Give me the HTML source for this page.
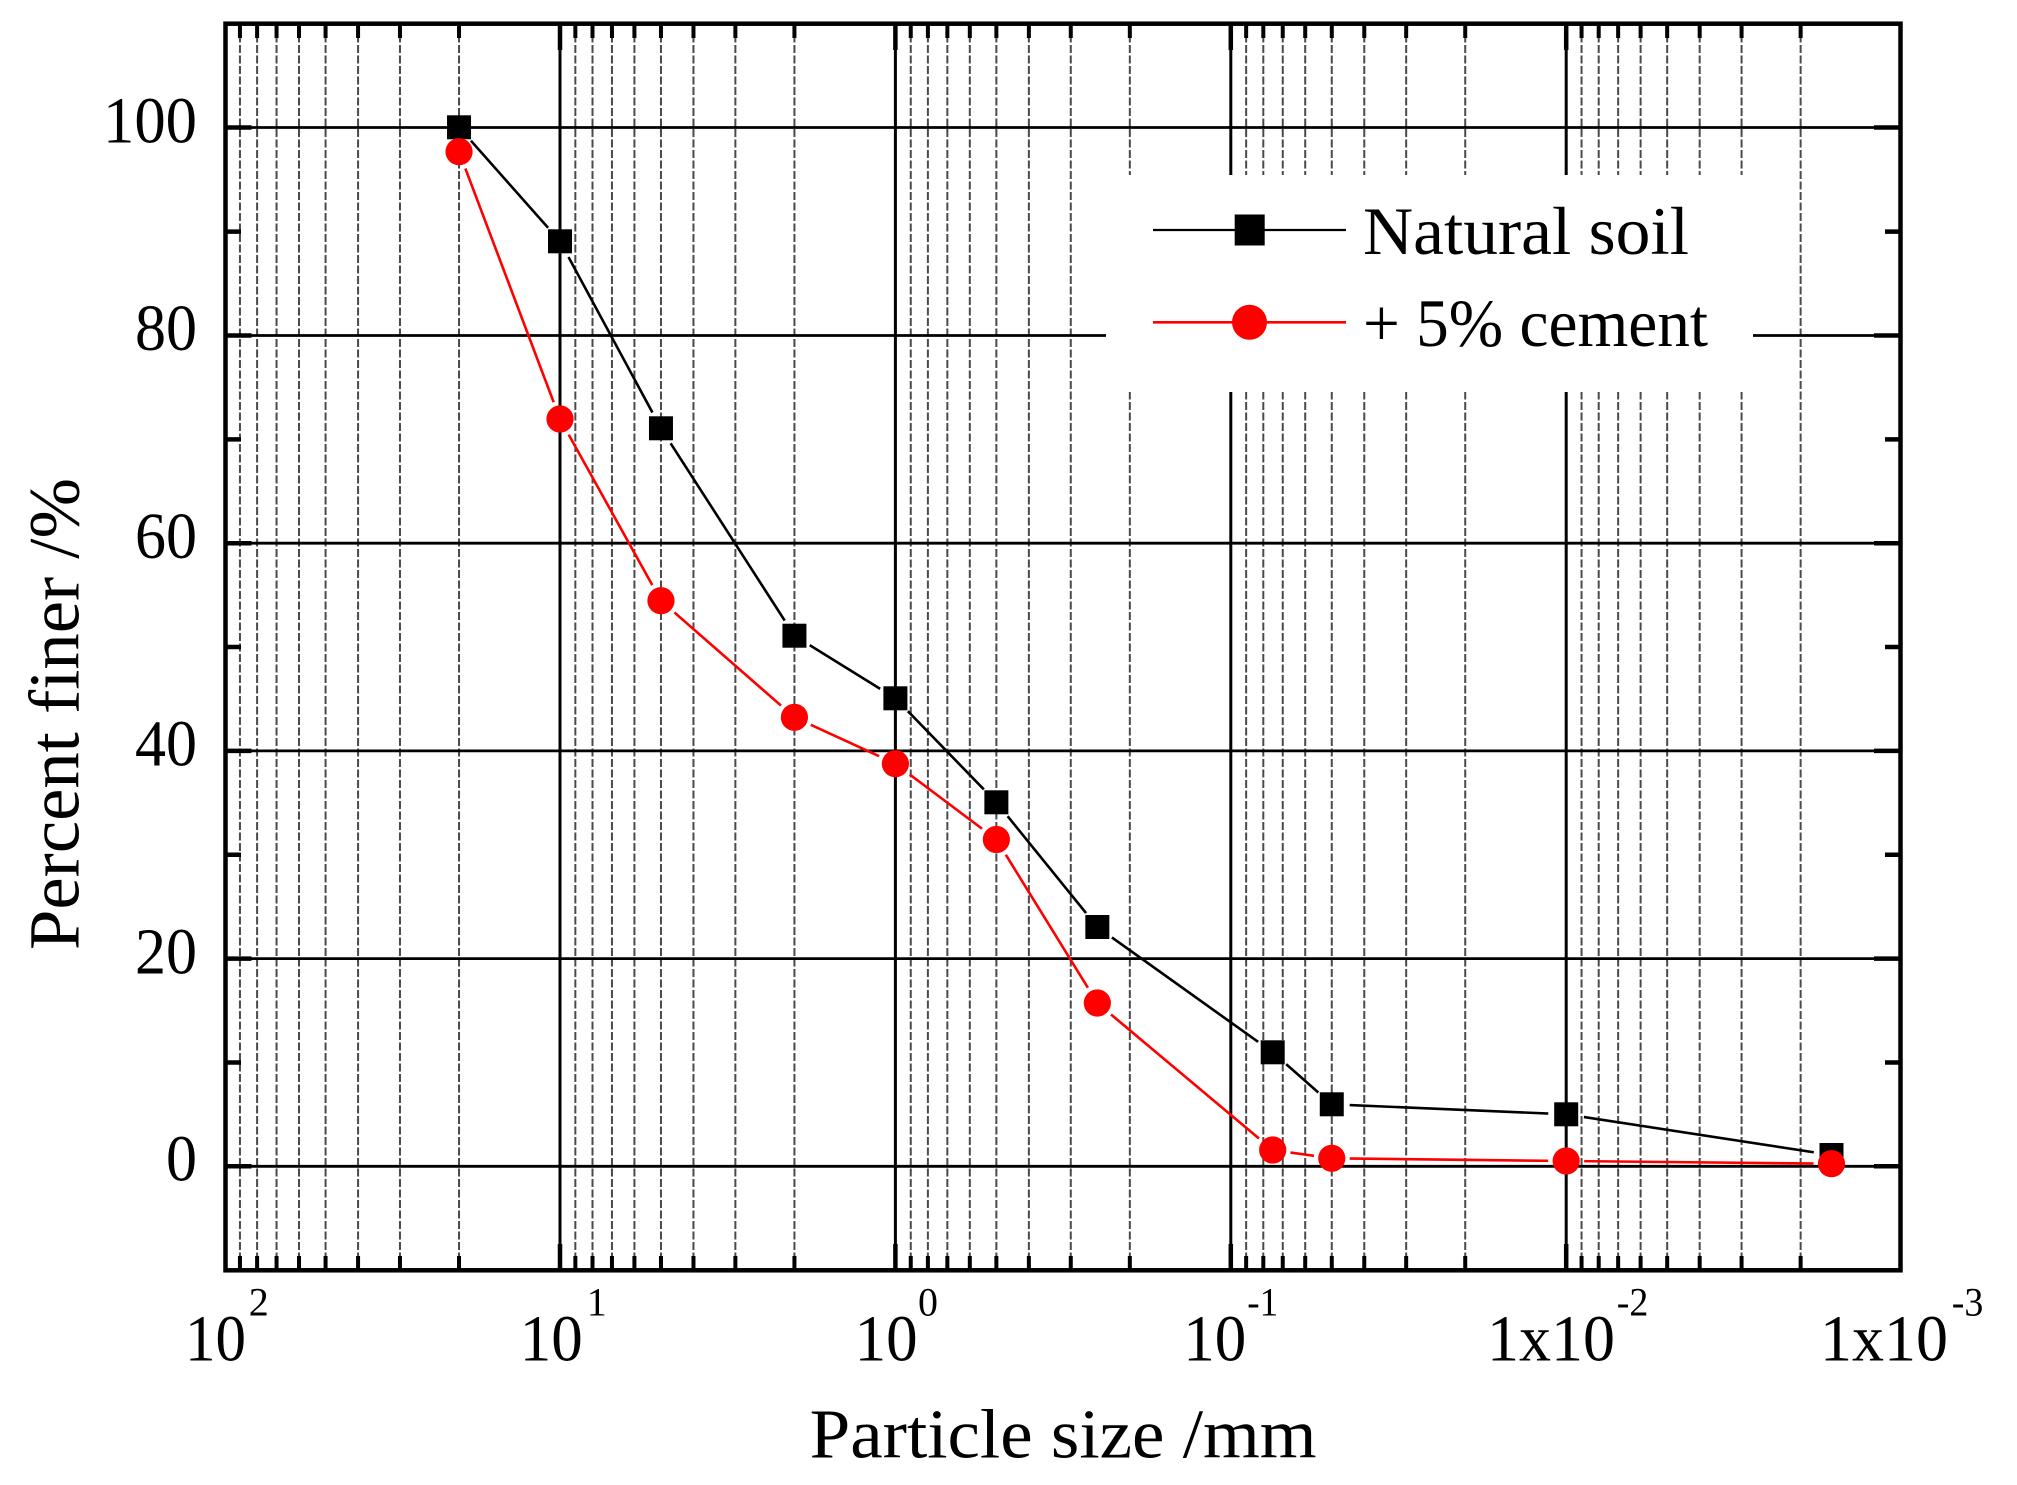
<!DOCTYPE html>
<html>
<head>
<meta charset="utf-8">
<style>
html,body{margin:0;padding:0;background:#fff;}
svg{display:block;}
text{font-family:"Liberation Serif",serif;fill:#000;}
</style>
</head>
<body>
<svg width="2017" height="1485" viewBox="0 0 2017 1485" xmlns="http://www.w3.org/2000/svg">
<defs>
<mask id="mk" maskUnits="userSpaceOnUse" x="0" y="0" width="2017" height="1485">
<rect x="0" y="0" width="2017" height="1485" fill="#fff"/>
<g fill="#000">
<circle cx="459.03" cy="127.3" r="18"/><circle cx="560" cy="241.3" r="18"/><circle cx="660.97" cy="428.3" r="18"/><circle cx="794.43" cy="635.7" r="18"/><circle cx="895.4" cy="698.3" r="18"/><circle cx="996.37" cy="802.3" r="18"/><circle cx="1097.33" cy="927" r="18"/><circle cx="1272.7" cy="1052.3" r="18"/><circle cx="1331.77" cy="1104.3" r="18"/><circle cx="1566.2" cy="1114.3" r="18"/><circle cx="1831.5" cy="1155" r="18"/>
</g>
</mask>
<mask id="mr" maskUnits="userSpaceOnUse" x="0" y="0" width="2017" height="1485">
<rect x="0" y="0" width="2017" height="1485" fill="#fff"/>
<g fill="#000">
<circle cx="459.03" cy="151.7" r="18"/><circle cx="560" cy="419" r="18"/><circle cx="660.97" cy="600.7" r="18"/><circle cx="794.43" cy="717.3" r="18"/><circle cx="895.4" cy="763.7" r="18"/><circle cx="996.37" cy="839.5" r="18"/><circle cx="1097.33" cy="1003" r="18"/><circle cx="1272.7" cy="1150" r="18"/><circle cx="1331.77" cy="1158.3" r="18"/><circle cx="1566.2" cy="1161" r="18"/><circle cx="1831.5" cy="1163.7" r="18"/>
</g>
</mask>
</defs>

<!-- minor dashed vertical gridlines -->
<g stroke="#4a4a4a" stroke-width="2" stroke-dasharray="8 2.5" fill="none">
<path d="M239.95 24V1270M257.1 24V1270M276.55 24V1270M299.01 24V1270M325.57 24V1270M358.07 24V1270M399.97 24V1270M459.03 24V1270
M575.35 24V1270M592.5 24V1270M611.95 24V1270M634.41 24V1270M660.97 24V1270M693.47 24V1270M735.37 24V1270M794.43 24V1270
M910.75 24V1270M927.9 24V1270M947.35 24V1270M969.81 24V1270M996.37 24V1270M1028.87 24V1270M1070.77 24V1270M1129.83 24V1270
M1246.15 24V1270M1263.3 24V1270M1282.75 24V1270M1305.21 24V1270M1331.77 24V1270M1364.27 24V1270M1406.17 24V1270M1465.23 24V1270
M1581.55 24V1270M1598.7 24V1270M1618.15 24V1270M1640.61 24V1270M1667.17 24V1270M1699.67 24V1270M1741.57 24V1270M1800.63 24V1270"/>
</g>
<!-- major vertical gridlines -->
<g stroke="#000" stroke-width="3" fill="none">
<path d="M560 24V1270M895.4 24V1270M1230.8 24V1270M1566.2 24V1270"/>
</g>
<!-- horizontal gridlines -->
<g stroke="#000" stroke-width="2.8" fill="none">
<path d="M225 1166.3H1901M225 958.6H1901M225 750.9H1901M225 543.2H1901M225 335.5H1901M225 127.5H1901"/>
</g>

<!-- legend background -->
<rect x="1106" y="175" width="647" height="217" fill="#fff"/>

<!-- series lines -->
<polyline mask="url(#mk)" fill="none" stroke="#000" stroke-width="2.6" points="459.03,127.3 560,241.3 660.97,428.3 794.43,635.7 895.4,698.3 996.37,802.3 1097.33,927 1272.7,1052.3 1331.77,1104.3 1566.2,1114.3 1831.5,1155"/>
<polyline mask="url(#mr)" fill="none" stroke="#ff0000" stroke-width="2.6" points="459.03,151.7 560,419 660.97,600.7 794.43,717.3 895.4,763.7 996.37,839.5 1097.33,1003 1272.7,1150 1331.77,1158.3 1566.2,1161 1831.5,1163.7"/>

<!-- black squares -->
<g fill="#000">
<rect x="447.03" y="115.3" width="24" height="24"/>
<rect x="548" y="229.3" width="24" height="24"/>
<rect x="648.97" y="416.3" width="24" height="24"/>
<rect x="782.43" y="623.7" width="24" height="24"/>
<rect x="883.4" y="686.3" width="24" height="24"/>
<rect x="984.37" y="790.3" width="24" height="24"/>
<rect x="1085.33" y="915" width="24" height="24"/>
<rect x="1260.7" y="1040.3" width="24" height="24"/>
<rect x="1319.77" y="1092.3" width="24" height="24"/>
<rect x="1554.2" y="1102.3" width="24" height="24"/>
<rect x="1819.5" y="1143" width="24" height="24"/>
</g>
<!-- red circles -->
<g fill="#ff0000">
<circle cx="459.03" cy="151.7" r="13.6"/>
<circle cx="560" cy="419" r="13.6"/>
<circle cx="660.97" cy="600.7" r="13.6"/>
<circle cx="794.43" cy="717.3" r="13.6"/>
<circle cx="895.4" cy="763.7" r="13.6"/>
<circle cx="996.37" cy="839.5" r="13.6"/>
<circle cx="1097.33" cy="1003" r="13.6"/>
<circle cx="1272.7" cy="1150" r="13.6"/>
<circle cx="1331.77" cy="1158.3" r="13.6"/>
<circle cx="1566.2" cy="1161" r="13.6"/>
<circle cx="1831.5" cy="1163.7" r="13.6"/>
</g>

<!-- legend -->
<line x1="1153" y1="230" x2="1346" y2="230" stroke="#000" stroke-width="2.2"/>
<rect x="1234.7" y="214.5" width="30" height="31" fill="#000"/>
<text x="1363" y="254" font-size="68" textLength="326" lengthAdjust="spacingAndGlyphs">Natural soil</text>
<line x1="1153" y1="322.3" x2="1346" y2="322.3" stroke="#ff0000" stroke-width="2.6"/>
<circle cx="1249.5" cy="322.3" r="17.5" fill="#ff0000"/>
<text x="1363" y="346" font-size="68" textLength="345" lengthAdjust="spacingAndGlyphs">+ 5% cement</text>

<!-- ticks -->
<g stroke="#000" stroke-width="4.5" fill="none">
<!-- bottom major -->
<path d="M560 1270V1244M895.4 1270V1244M1230.8 1270V1244M1566.2 1270V1244"/>
<!-- top major -->
<path d="M560 24V50M895.4 24V50M1230.8 24V50M1566.2 24V50"/>
</g>
<g stroke="#000" stroke-width="4" fill="none">
<!-- bottom minor -->
<path d="M239.95 1270V1256M257.1 1270V1256M276.55 1270V1256M299.01 1270V1256M325.57 1270V1256M358.07 1270V1256M399.97 1270V1256M459.03 1270V1256
M575.35 1270V1256M592.5 1270V1256M611.95 1270V1256M634.41 1270V1256M660.97 1270V1256M693.47 1270V1256M735.37 1270V1256M794.43 1270V1256
M910.75 1270V1256M927.9 1270V1256M947.35 1270V1256M969.81 1270V1256M996.37 1270V1256M1028.87 1270V1256M1070.77 1270V1256M1129.83 1270V1256
M1246.15 1270V1256M1263.3 1270V1256M1282.75 1270V1256M1305.21 1270V1256M1331.77 1270V1256M1364.27 1270V1256M1406.17 1270V1256M1465.23 1270V1256
M1581.55 1270V1256M1598.7 1270V1256M1618.15 1270V1256M1640.61 1270V1256M1667.17 1270V1256M1699.67 1270V1256M1741.57 1270V1256M1800.63 1270V1256"/>
<!-- top minor -->
<path d="M239.95 24V38M257.1 24V38M276.55 24V38M299.01 24V38M325.57 24V38M358.07 24V38M399.97 24V38M459.03 24V38
M575.35 24V38M592.5 24V38M611.95 24V38M634.41 24V38M660.97 24V38M693.47 24V38M735.37 24V38M794.43 24V38
M910.75 24V38M927.9 24V38M947.35 24V38M969.81 24V38M996.37 24V38M1028.87 24V38M1070.77 24V38M1129.83 24V38
M1246.15 24V38M1263.3 24V38M1282.75 24V38M1305.21 24V38M1331.77 24V38M1364.27 24V38M1406.17 24V38M1465.23 24V38
M1581.55 24V38M1598.7 24V38M1618.15 24V38M1640.61 24V38M1667.17 24V38M1699.67 24V38M1741.57 24V38M1800.63 24V38"/>
</g>
<g stroke="#000" stroke-width="4.5" fill="none">
<!-- left major/minor -->
<path d="M225 1166.3H251.5M225 958.6H251.5M225 750.9H251.5M225 543.2H251.5M225 335.5H251.5M225 127.5H251.5"/>
<path d="M225 1062.45H241M225 854.75H241M225 647.05H241M225 439.35H241M225 231.65H241"/>
<!-- right major/minor -->
<path d="M1901 1166.3H1874M1901 958.6H1874M1901 750.9H1874M1901 543.2H1874M1901 335.5H1874M1901 127.5H1874"/>
<path d="M1901 1062.45H1885M1901 854.75H1885M1901 647.05H1885M1901 439.35H1885M1901 231.65H1885"/>
</g>

<!-- frame -->
<rect x="225.5" y="23.7" width="1675" height="1246.6" fill="none" stroke="#000" stroke-width="4.5"/>

<!-- y tick labels -->
<g font-size="66" text-anchor="end">
<text x="197" y="142.6" textLength="94" lengthAdjust="spacingAndGlyphs">100</text>
<text x="197" y="350" textLength="62" lengthAdjust="spacingAndGlyphs">80</text>
<text x="197" y="558" textLength="62" lengthAdjust="spacingAndGlyphs">60</text>
<text x="197" y="765.7" textLength="62" lengthAdjust="spacingAndGlyphs">40</text>
<text x="197" y="973.4" textLength="62" lengthAdjust="spacingAndGlyphs">20</text>
<text x="197" y="1180.7" textLength="31" lengthAdjust="spacingAndGlyphs">0</text>
</g>

<!-- x tick labels -->
<g font-size="66">
<text x="185" y="1360.5" textLength="61" lengthAdjust="spacingAndGlyphs">10</text>
<text x="519.8" y="1360.5" textLength="63" lengthAdjust="spacingAndGlyphs">10</text>
<text x="854.6" y="1360.5" textLength="63" lengthAdjust="spacingAndGlyphs">10</text>
<text x="1183.3" y="1360.5" textLength="63" lengthAdjust="spacingAndGlyphs">10</text>
<text x="1487" y="1360.5" textLength="128" lengthAdjust="spacingAndGlyphs">1x10</text>
<text x="1820" y="1360.5" textLength="128" lengthAdjust="spacingAndGlyphs">1x10</text>
</g>
<g font-size="40">
<text x="248.7" y="1315.5">2</text>
<text x="586.7" y="1315.5">1</text>
<text x="918" y="1315.5">0</text>
<text x="1247.3" y="1315.5" textLength="31" lengthAdjust="spacingAndGlyphs">-1</text>
<text x="1616.7" y="1315.5" textLength="31.6" lengthAdjust="spacingAndGlyphs">-2</text>
<text x="1951.7" y="1315.5" textLength="31.6" lengthAdjust="spacingAndGlyphs">-3</text>
</g>

<!-- axis titles -->
<text x="809.6" y="1457.3" font-size="70" textLength="507" lengthAdjust="spacingAndGlyphs">Particle size /mm</text>
<text transform="translate(78.3,714) rotate(-90)" text-anchor="middle" font-size="72" textLength="472" lengthAdjust="spacingAndGlyphs">Percent finer /%</text>
</svg>
</body>
</html>
